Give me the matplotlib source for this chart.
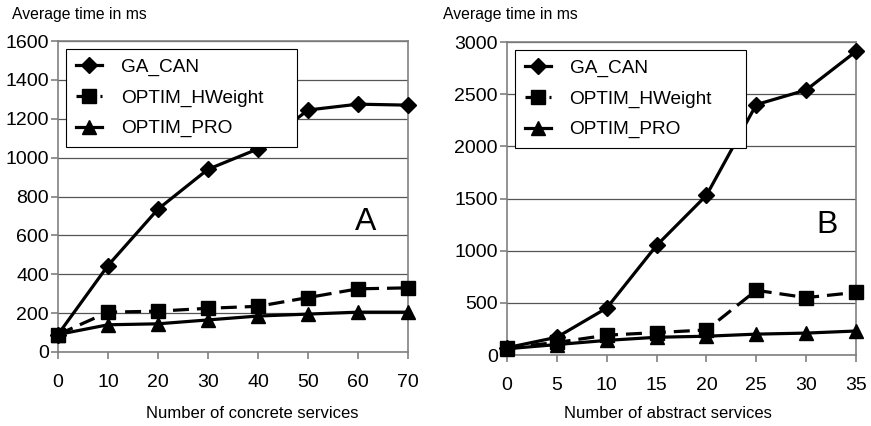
import matplotlib.pyplot as plt

plt.rcParams['font.family'] = ['Liberation Sans', 'DejaVu Sans']

# Panel A: concrete services
x_a = [0, 10, 20, 30, 40, 50, 60, 70]
ga_can_a = [90, 445, 735, 940, 1045, 1245, 1275, 1270]
hweight_a = [90, 205, 210, 225, 235, 280, 325, 330]
pro_a = [90, 140, 145, 165, 185, 195, 205, 205]

# Panel B: abstract services
x_b = [0, 5, 10, 15, 20, 25, 30, 35]
ga_can_b = [70, 170, 450, 1050, 1530, 2400, 2540, 2910]
hweight_b = [70, 120, 190, 215, 240, 620, 550, 600]
pro_b = [60, 100, 140, 170, 180, 200, 210, 230]

labels = ['GA_CAN', 'OPTIM_HWeight', 'OPTIM_PRO']

W, H = 871, 426
fig = plt.figure(figsize=(W / 100, H / 100), dpi=100)

ax_a = fig.add_axes([58 / W, (H - 352) / H, 350 / W, 311 / H])
ax_b = fig.add_axes([507 / W, (H - 355) / H, 349 / W, 313 / H])

grey = '#808080'


def draw(ax, x, ga, hw, pro, ymax, ystep, letter, letter_xy):
    ax.plot(x, ga, color='black', lw=2.3, marker='D', ms=8.5, clip_on=False, zorder=5, label=labels[0])
    ax.plot(x, hw, color='black', lw=2.3, ls=(0, (5, 2.5)), marker='s', ms=9.5, clip_on=False, zorder=5, label=labels[1])
    ax.plot(x, pro, color='black', lw=2.3, marker='^', ms=10.5, clip_on=False, zorder=5, label=labels[2])
    ax.set_xlim(x[0], x[-1])
    ax.set_ylim(0, ymax)
    ax.set_xticks(x)
    ax.set_yticks(range(0, ymax + 1, ystep))
    ax.yaxis.grid(True, color='#555555', lw=0.9)
    ax.set_axisbelow(True)
    for s in ax.spines.values():
        s.set_color(grey)
        s.set_linewidth(1.2)
    ax.tick_params(axis='both', colors=grey, labelcolor='black', labelsize=14, length=5, width=1.2, direction='out')
    ax.tick_params(axis='x', pad=11)
    ax.tick_params(axis='y', pad=1.5)
    ax.text(letter_xy[0], letter_xy[1], letter, fontsize=23, ha='center', va='center')
    leg = ax.legend(loc='upper left', bbox_to_anchor=(0.024, 0.975, 0.66, 0.0), mode='expand', fontsize=13.7,
                    frameon=True, fancybox=False, edgecolor='black', framealpha=1, handlelength=1.35,
                    handletextpad=1.0, labelspacing=0.7, borderpad=0.5, borderaxespad=0)
    leg.get_frame().set_linewidth(0.8)


draw(ax_a, x_a, ga_can_a, hweight_a, pro_a, 1600, 200, 'A', (61.6, 669))
draw(ax_b, x_b, ga_can_b, hweight_b, pro_b, 3000, 500, 'B', (32.1, 1246))

fig.text(12 / W, 1 - 14 / H, 'Average time in ms', fontsize=11.3, va='center', ha='left')
fig.text(443 / W, 1 - 14 / H, 'Average time in ms', fontsize=11.3, va='center', ha='left')
fig.text(252 / W, 1 - 414 / H, 'Number of concrete services', fontsize=12, va='center', ha='center')
fig.text(668 / W, 1 - 414 / H, 'Number of abstract services', fontsize=12, va='center', ha='center')

plt.savefig('out.png', dpi=100)
